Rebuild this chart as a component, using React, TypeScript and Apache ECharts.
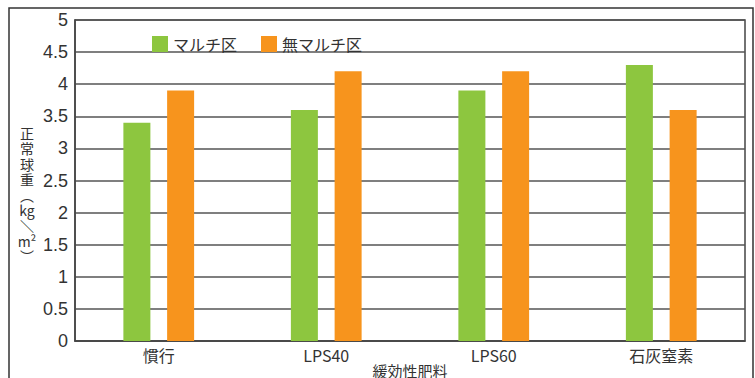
import React, { useEffect, useRef } from "react";
import * as echarts from "echarts";

const categories = ["慣行", "LPS40", "LPS60", "石灰窒素"];
const seriesNames = ["マルチ区", "無マルチ区"];
const mulch = [3.4, 3.6, 3.9, 4.3];
const noMulch = [3.9, 4.2, 4.2, 3.6];
const colors = ["#8DC63F", "#F7941D"];
const yAxisTitleChars = ["正", "常", "球", "重", "︵", "kg", "＼", "m²", "︶"];
const xAxisTitle = "緩効性肥料";

export default function App() {
  const ref = useRef<HTMLDivElement>(null);
  useEffect(() => {
    document.body.style.margin = "0";
    const chart = echarts.init(ref.current!, null, { renderer: "svg" });
    const font = "'Noto Sans CJK JP', 'Noto Sans', sans-serif";
    const titleGraphics = yAxisTitleChars.map((ch, i) => ({
      type: "text",
      x: 27,
      y: 133 + i * 15.4,
      style: {
        text: ch,
        fill: "#333",
        fontSize: 14,
        fontFamily: "'Noto Sans CJK JP'",
        lineHeight: 15,
        align: "center",
        verticalAlign: "middle",
      },
    }));
    chart.setOption({
      animation: false,
      textStyle: { fontFamily: font },
      grid: {
        left: 75,
        right: 10,
        top: 20,
        bottom: 37,
        show: true,
        borderColor: "#444",
        borderWidth: 1.5,
        outerBoundsMode: "none",
        containLabel: false,
      },
      legend: {
        left: 147,
        top: 31,
        itemWidth: 16,
        itemHeight: 16,
        itemGap: 24,
        icon: "rect",
        textStyle: { fontSize: 16, color: "#333", fontFamily: font },
        data: seriesNames,
      },
      xAxis: {
        type: "category",
        data: categories,
        axisLine: { lineStyle: { color: "#444", width: 1.5 } },
        axisTick: { inside: true, length: 7, lineStyle: { color: "#444" } },
        axisLabel: { fontSize: 16, color: "#333", margin: 6, fontFamily: font },
        name: xAxisTitle,
        nameLocation: "middle",
        nameGap: 21,
        nameMoveOverlap: false,
        nameTextStyle: { fontSize: 15, color: "#333", fontFamily: font, lineHeight: 16 },
      },
      yAxis: {
        type: "value",
        min: 0,
        max: 5,
        interval: 0.5,
        axisLine: { show: true, lineStyle: { color: "#444", width: 1.5 } },
        axisTick: { show: false },
        splitLine: { lineStyle: { color: "#555", width: 1.5 } },
        axisLabel: { fontSize: 18, color: "#333", margin: 7, fontFamily: "'Liberation Sans', sans-serif" },
      },
      graphic: [
        {
          type: "rect",
          shape: { x: 9, y: 8, width: 744, height: 400 },
          style: { fill: "none", stroke: "#333", lineWidth: 1.5 },
          silent: true,
        },
        ...titleGraphics,
      ],
      series: [
        {
          name: seriesNames[0],
          type: "bar",
          data: mulch,
          barWidth: 27,
          barGap: "62%",
          itemStyle: { color: colors[0] },
        },
        {
          name: seriesNames[1],
          type: "bar",
          data: noMulch,
          barWidth: 27,
          barGap: "62%",
          itemStyle: { color: colors[1] },
        },
      ],
    });
    return () => chart.dispose();
  }, []);
  return <div ref={ref} style={{ width: 755, height: 378 }} />;
}
